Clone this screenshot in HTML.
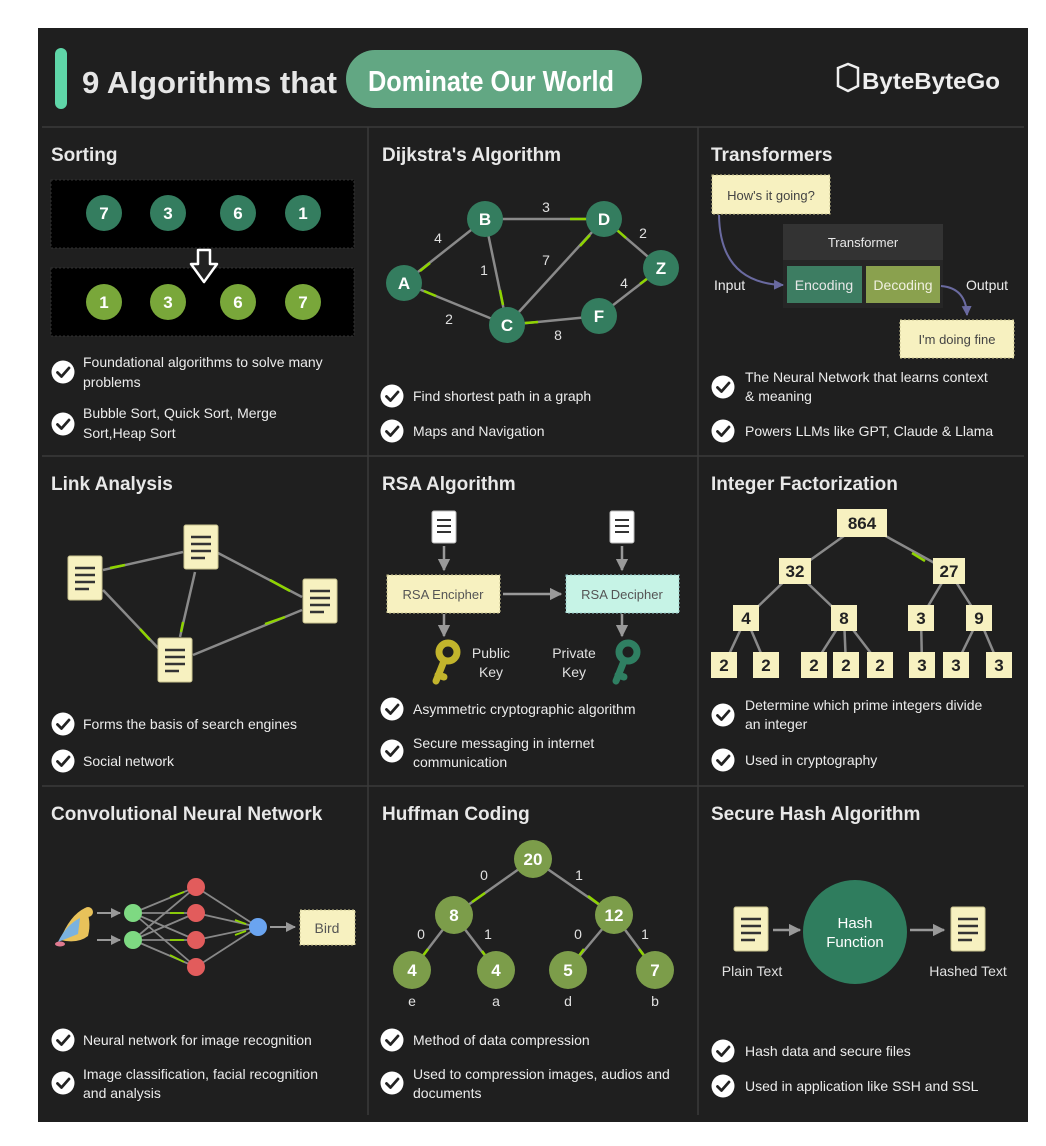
<!DOCTYPE html>
<html><head><meta charset="utf-8"><style>
html,body{margin:0;padding:0;background:#fff;}
svg{display:block;}
text{font-family:"Liberation Sans",sans-serif;}
.h{fill:#e8e8e8;font-size:19px;font-weight:bold;}
.b{fill:#ececec;font-size:14px;}
.n{fill:#fff;font-size:17px;font-weight:bold;text-anchor:middle;}
.l{fill:#e0e0e0;font-size:14px;text-anchor:middle;}
.e{stroke:#8a8a8a;stroke-width:2.5;fill:none;}
.g{stroke:#8ed400;stroke-width:2.5;fill:none;}
</style></head><body>
<svg width="1046" height="1146" viewBox="0 0 1046 1146" xmlns="http://www.w3.org/2000/svg">
<defs>
<symbol id="chk" viewBox="-12 -12 24 24"><circle r="11.5" fill="#fff"/><path d="M-5.5 0.5 L-1.5 4.5 L6 -4" stroke="#222" stroke-width="2.8" fill="none" stroke-linecap="round" stroke-linejoin="round"/></symbol>
<symbol id="doc" viewBox="0 0 36 46"><rect x="1" y="1" width="34" height="44" rx="2" fill="#f7f1c0" stroke="#c9c38f"/><path d="M8 13h20M8 20h20M8 27h20M8 34h14" stroke="#333" stroke-width="2.6"/></symbol>
<symbol id="wdoc" viewBox="0 0 26 34"><rect x="1" y="1" width="24" height="32" rx="2" fill="#fff" stroke="#bbb"/><path d="M6 10h14M6 16h14M6 22h14" stroke="#333" stroke-width="2"/></symbol>
<marker id="ar" viewBox="0 0 10 10" refX="9" refY="5" markerWidth="5" markerHeight="5" orient="auto"><path d="M0 0L10 5L0 10z" fill="#999"/></marker>
<marker id="ar2" viewBox="0 0 10 10" refX="9" refY="5" markerWidth="5" markerHeight="5" orient="auto"><path d="M0 0L10 5L0 10z" fill="#6a6aa0"/></marker>
</defs>
<rect x="38" y="28" width="990" height="1094" fill="#1f1f1f"/>
<!-- header -->
<rect x="55" y="48" width="12" height="61" rx="6" fill="#5fd6a8"/>
<text x="82" y="93" textLength="255" lengthAdjust="spacingAndGlyphs" style="font-size:31px;font-weight:bold;fill:#e6e6e6">9 Algorithms that</text>
<rect x="346" y="50" width="296" height="58" rx="29" fill="#62a783"/>
<text x="368" y="91" textLength="246" lengthAdjust="spacingAndGlyphs" style="font-size:29px;font-weight:bold;fill:#fff">Dominate Our World</text>
<path d="M838 68 l10 -4 l10 4 v18 l-10 5 l-10 -5z" fill="none" stroke="#eee" stroke-width="2.5"/>
<text x="862" y="89" textLength="138" lengthAdjust="spacingAndGlyphs" style="font-size:23px;font-weight:bold;fill:#eee">ByteByteGo</text>
<!-- grid -->
<g stroke="#3a3a3a" stroke-width="1.5">
<line x1="42" y1="127" x2="1024" y2="127"/><line x1="42" y1="456" x2="1024" y2="456"/><line x1="42" y1="786" x2="1024" y2="786"/>
<line x1="368" y1="127" x2="368" y2="1115"/><line x1="698" y1="127" x2="698" y2="1115"/>
</g>
<!-- titles -->
<text class="h" x="51" y="161">Sorting</text>
<text class="h" x="382" y="161">Dijkstra's Algorithm</text>
<text class="h" x="711" y="161">Transformers</text>
<text class="h" x="51" y="490">Link Analysis</text>
<text class="h" x="382" y="490">RSA Algorithm</text>
<text class="h" x="711" y="490">Integer Factorization</text>
<text class="h" x="51" y="820">Convolutional Neural Network</text>
<text class="h" x="382" y="820">Huffman Coding</text>
<text class="h" x="711" y="820">Secure Hash Algorithm</text>
<!-- Sorting -->
<rect x="51" y="180" width="303" height="68" fill="#000" stroke="#333" stroke-dasharray="2 2"/>
<rect x="51" y="268" width="303" height="68" fill="#000" stroke="#333" stroke-dasharray="2 2"/>
<g fill="#347d5f"><circle cx="104" cy="213" r="18"/><circle cx="168" cy="213" r="18"/><circle cx="238" cy="213" r="18"/><circle cx="303" cy="213" r="18"/></g>
<text class="n" x="104" y="219">7</text><text class="n" x="168" y="219">3</text><text class="n" x="238" y="219">6</text><text class="n" x="303" y="219">1</text>
<g fill="#79a73a"><circle cx="104" cy="302" r="18"/><circle cx="168" cy="302" r="18"/><circle cx="238" cy="302" r="18"/><circle cx="303" cy="302" r="18"/></g>
<text class="n" x="104" y="308">1</text><text class="n" x="168" y="308">3</text><text class="n" x="238" y="308">6</text><text class="n" x="303" y="308">7</text>
<path d="M198 250 h12 v14 h7 l-13 18 l-13 -18 h7z" fill="#222" stroke="#fff" stroke-width="2.5" stroke-linejoin="round"/>
<use href="#chk" x="51" y="360" width="24" height="24"/>
<text class="b" x="83" y="367">Foundational algorithms to solve many</text><text class="b" x="83" y="387">problems</text>
<use href="#chk" x="51" y="412" width="24" height="24"/>
<text class="b" x="83" y="418">Bubble Sort, Quick Sort, Merge</text><text class="b" x="83" y="438">Sort,Heap Sort</text>
<!-- Dijkstra -->
<g class="e"><line x1="404" y1="283" x2="485" y2="219"/><line x1="485" y1="219" x2="604" y2="219"/><line x1="604" y1="219" x2="661" y2="268"/><line x1="404" y1="283" x2="507" y2="325"/><line x1="485" y1="219" x2="507" y2="325"/><line x1="604" y1="219" x2="507" y2="325"/><line x1="661" y1="268" x2="599" y2="316"/><line x1="507" y1="325" x2="599" y2="316"/></g>
<g class="g"><line x1="420" y1="271" x2="430" y2="263"/><line x1="570" y1="219" x2="586" y2="219"/><line x1="617" y1="230" x2="626" y2="238"/><line x1="424" y1="291" x2="436" y2="296"/><line x1="500" y1="290" x2="503" y2="305"/><line x1="580" y1="246" x2="590" y2="235"/><line x1="640" y1="284" x2="648" y2="278"/><line x1="525" y1="323" x2="538" y2="322"/></g>
<g fill="#347d5f"><circle cx="404" cy="283" r="18"/><circle cx="485" cy="219" r="18"/><circle cx="604" cy="219" r="18"/><circle cx="661" cy="268" r="18"/><circle cx="507" cy="325" r="18"/><circle cx="599" cy="316" r="18"/></g>
<text class="n" x="404" y="289">A</text><text class="n" x="485" y="225">B</text><text class="n" x="604" y="225">D</text><text class="n" x="661" y="274">Z</text><text class="n" x="507" y="331">C</text><text class="n" x="599" y="322">F</text>
<text class="l" x="438" y="243">4</text><text class="l" x="546" y="212">3</text><text class="l" x="643" y="238">2</text><text class="l" x="449" y="324">2</text><text class="l" x="484" y="275">1</text><text class="l" x="546" y="265">7</text><text class="l" x="624" y="288">4</text><text class="l" x="558" y="340">8</text>
<use href="#chk" x="380" y="384" width="24" height="24"/><text class="b" x="413" y="401">Find shortest path in a graph</text>
<use href="#chk" x="380" y="419" width="24" height="24"/><text class="b" x="413" y="436">Maps and Navigation</text>
<!-- Transformers -->
<rect x="712" y="175" width="118" height="39" fill="#f7f1c0" stroke="#c9c38f" stroke-dasharray="2 2"/>
<text x="771" y="200" style="font-size:13px;fill:#444;text-anchor:middle">How's it going?</text>
<rect x="783" y="224" width="160" height="36" fill="#333"/>
<text x="863" y="247" style="font-size:13px;fill:#e8e8e8;text-anchor:middle">Transformer</text>
<rect x="783" y="260" width="160" height="48" fill="#262626"/>
<rect x="787" y="266" width="75" height="37" fill="#3d7d62"/><text x="824" y="290" style="font-size:14px;fill:#e8e8e8;text-anchor:middle">Encoding</text>
<rect x="866" y="266" width="74" height="37" fill="#8aa14e"/><text x="903" y="290" style="font-size:14px;fill:#f0f0e0;text-anchor:middle">Decoding</text>
<path d="M719 215 Q720 283 783 285" fill="none" stroke="#6a6aa0" stroke-width="2" marker-end="url(#ar2)"/>
<path d="M941 286 Q966 288 967 315" fill="none" stroke="#6a6aa0" stroke-width="2" marker-end="url(#ar2)"/>
<text class="b" x="714" y="290">Input</text><text class="b" x="966" y="290">Output</text>
<rect x="900" y="320" width="114" height="38" fill="#f7f1c0" stroke="#c9c38f" stroke-dasharray="2 2"/>
<text x="957" y="344" style="font-size:13px;fill:#444;text-anchor:middle">I'm doing fine</text>
<use href="#chk" x="711" y="375" width="24" height="24"/>
<text class="b" x="745" y="382">The Neural Network that learns context</text><text class="b" x="745" y="401">&amp; meaning</text>
<use href="#chk" x="711" y="419" width="24" height="24"/><text class="b" x="745" y="436">Powers LLMs like GPT, Claude &amp; Llama</text>
<!-- Link Analysis -->
<g class="e"><line x1="103" y1="570" x2="183" y2="552"/><line x1="218" y1="553" x2="302" y2="597"/><line x1="195" y1="572" x2="180" y2="637"/><line x1="103" y1="590" x2="160" y2="650"/><line x1="193" y1="655" x2="302" y2="610"/></g>
<g class="g"><line x1="110" y1="568" x2="125" y2="565"/><line x1="270" y1="580" x2="290" y2="591"/><line x1="183" y1="622" x2="181" y2="632"/><line x1="140" y1="629" x2="150" y2="640"/><line x1="265" y1="624" x2="285" y2="617"/></g>
<use href="#doc" x="67" y="555" width="36" height="46"/>
<use href="#doc" x="183" y="524" width="36" height="46"/>
<use href="#doc" x="302" y="578" width="36" height="46"/>
<use href="#doc" x="157" y="637" width="36" height="46"/>
<use href="#chk" x="51" y="712" width="24" height="24"/><text class="b" x="83" y="729">Forms the basis of search engines</text>
<use href="#chk" x="51" y="749" width="24" height="24"/><text class="b" x="83" y="766">Social network</text>
<!-- RSA -->
<use href="#wdoc" x="431" y="510" width="26" height="34"/><use href="#wdoc" x="609" y="510" width="26" height="34"/>
<g stroke="#999" stroke-width="2.5"><line x1="444" y1="546" x2="444" y2="570" marker-end="url(#ar)"/><line x1="622" y1="546" x2="622" y2="570" marker-end="url(#ar)"/><line x1="444" y1="614" x2="444" y2="636" marker-end="url(#ar)"/><line x1="622" y1="614" x2="622" y2="636" marker-end="url(#ar)"/><line x1="503" y1="594" x2="561" y2="594" marker-end="url(#ar)"/></g>
<rect x="387" y="575" width="113" height="38" fill="#f7f1c0" stroke="#c9c38f" stroke-dasharray="2 2"/>
<text x="443" y="599" style="font-size:13px;fill:#555;text-anchor:middle">RSA Encipher</text>
<rect x="566" y="575" width="113" height="38" fill="#c6f3e6" stroke="#9cc" stroke-dasharray="2 2"/>
<text x="622" y="599" style="font-size:13px;fill:#555;text-anchor:middle">RSA Decipher</text>
<g fill="none" stroke-width="7" stroke-linecap="round"><circle cx="448" cy="652" r="9" stroke="#c2b42c"/><path d="M444 661 L436 681 M438 675 l6 2" stroke="#c2b42c"/><circle cx="628" cy="652" r="9" stroke="#2f7f62"/><path d="M624 661 L616 681 M618 675 l6 2" stroke="#2f7f62"/></g>
<circle cx="448" cy="652" r="2.5" fill="#1f1f1f"/><circle cx="628" cy="652" r="2.5" fill="#1f1f1f"/>
<text class="l" x="491" y="658">Public</text><text class="l" x="491" y="677">Key</text>
<text class="l" x="574" y="658">Private</text><text class="l" x="574" y="677">Key</text>
<use href="#chk" x="380" y="697" width="24" height="24"/><text class="b" x="413" y="714">Asymmetric cryptographic algorithm</text>
<use href="#chk" x="380" y="739" width="24" height="24"/><text class="b" x="413" y="748">Secure messaging in internet</text><text class="b" x="413" y="767">communication</text>
<!-- Integer Factorization -->
<g class="e"><line x1="862" y1="523" x2="795" y2="571"/><line x1="862" y1="523" x2="949" y2="571"/><line x1="795" y1="571" x2="746" y2="618"/><line x1="795" y1="571" x2="844" y2="618"/><line x1="949" y1="571" x2="921" y2="618"/><line x1="949" y1="571" x2="979" y2="618"/><line x1="746" y1="618" x2="724" y2="665"/><line x1="746" y1="618" x2="766" y2="665"/><line x1="844" y1="618" x2="814" y2="665"/><line x1="844" y1="618" x2="846" y2="665"/><line x1="844" y1="618" x2="880" y2="665"/><line x1="921" y1="618" x2="922" y2="665"/><line x1="979" y1="618" x2="956" y2="665"/><line x1="979" y1="618" x2="999" y2="665"/></g>
<g class="g"><line x1="912" y1="553" x2="925" y2="561"/></g>
<g fill="#f7f1c0">
<rect x="837" y="509" width="50" height="28"/>
<rect x="779" y="558" width="32" height="26"/><rect x="933" y="558" width="32" height="26"/>
<rect x="733" y="605" width="26" height="26"/><rect x="831" y="605" width="26" height="26"/><rect x="908" y="605" width="26" height="26"/><rect x="966" y="605" width="26" height="26"/>
<rect x="711" y="652" width="26" height="26"/><rect x="753" y="652" width="26" height="26"/><rect x="801" y="652" width="26" height="26"/><rect x="833" y="652" width="26" height="26"/><rect x="867" y="652" width="26" height="26"/><rect x="909" y="652" width="26" height="26"/><rect x="943" y="652" width="26" height="26"/><rect x="986" y="652" width="26" height="26"/>
</g>
<g style="font-size:17px;font-weight:bold;fill:#222;text-anchor:middle">
<text x="862" y="529">864</text><text x="795" y="577">32</text><text x="949" y="577">27</text>
<text x="746" y="624">4</text><text x="844" y="624">8</text><text x="921" y="624">3</text><text x="979" y="624">9</text>
<text x="724" y="671">2</text><text x="766" y="671">2</text><text x="814" y="671">2</text><text x="846" y="671">2</text><text x="880" y="671">2</text><text x="922" y="671">3</text><text x="956" y="671">3</text><text x="999" y="671">3</text>
</g>
<use href="#chk" x="711" y="703" width="24" height="24"/><text class="b" x="745" y="710">Determine which prime integers divide</text><text class="b" x="745" y="729">an integer</text>
<use href="#chk" x="711" y="748" width="24" height="24"/><text class="b" x="745" y="765">Used in cryptography</text>
<!-- CNN -->
<g stroke="#999" stroke-width="2"><line x1="97" y1="913" x2="120" y2="913" marker-end="url(#ar)"/><line x1="97" y1="940" x2="120" y2="940" marker-end="url(#ar)"/><line x1="270" y1="927" x2="295" y2="927" marker-end="url(#ar)"/></g>
<g stroke="#888" stroke-width="1.8">
<line x1="133" y1="913" x2="196" y2="887"/><line x1="133" y1="913" x2="196" y2="913"/><line x1="133" y1="913" x2="196" y2="940"/><line x1="133" y1="913" x2="196" y2="967"/>
<line x1="133" y1="940" x2="196" y2="887"/><line x1="133" y1="940" x2="196" y2="913"/><line x1="133" y1="940" x2="196" y2="940"/><line x1="133" y1="940" x2="196" y2="967"/>
<line x1="196" y1="887" x2="258" y2="927"/><line x1="196" y1="913" x2="258" y2="927"/><line x1="196" y1="940" x2="258" y2="927"/><line x1="196" y1="967" x2="258" y2="927"/>
</g>
<g stroke="#8ed400" stroke-width="1.8"><line x1="170" y1="897" x2="184" y2="892"/><line x1="170" y1="913" x2="184" y2="913"/><line x1="170" y1="940" x2="184" y2="940"/><line x1="170" y1="955" x2="184" y2="962"/><line x1="235" y1="920" x2="246" y2="924"/><line x1="235" y1="935" x2="246" y2="931"/></g>
<g fill="#7ed982"><circle cx="133" cy="913" r="9"/><circle cx="133" cy="940" r="9"/></g>
<g fill="#e25c5c"><circle cx="196" cy="887" r="9"/><circle cx="196" cy="913" r="9"/><circle cx="196" cy="940" r="9"/><circle cx="196" cy="967" r="9"/></g>
<circle cx="258" cy="927" r="9" fill="#6aa4f0"/>
<path d="M60 940 Q70 915 85 908 Q92 920 88 936 Q78 944 60 940z" fill="#e8c25a"/><path d="M58 942 Q66 925 80 918 L78 934z" fill="#7ab2e0"/><circle cx="88" cy="912" r="5" fill="#e8c25a"/><ellipse cx="60" cy="944" rx="5" ry="2.5" fill="#e07a90"/>
<rect x="300" y="910" width="55" height="35" fill="#f7f1c0" stroke="#c9c38f" stroke-dasharray="2 2"/>
<text x="327" y="933" style="font-size:14px;fill:#555;text-anchor:middle">Bird</text>
<use href="#chk" x="51" y="1028" width="24" height="24"/><text class="b" x="83" y="1045">Neural network for image recognition</text>
<use href="#chk" x="51" y="1071" width="24" height="24"/><text class="b" x="83" y="1079">Image classification, facial recognition</text><text class="b" x="83" y="1098">and analysis</text>
<!-- Huffman -->
<g class="e"><line x1="533" y1="859" x2="454" y2="915"/><line x1="533" y1="859" x2="614" y2="915"/><line x1="454" y1="915" x2="412" y2="970"/><line x1="454" y1="915" x2="496" y2="970"/><line x1="614" y1="915" x2="568" y2="970"/><line x1="614" y1="915" x2="655" y2="970"/></g>
<g class="g"><line x1="472" y1="902" x2="485" y2="893"/><line x1="588" y1="896" x2="600" y2="905"/><line x1="422" y1="957" x2="428" y2="949"/><line x1="482" y1="951" x2="488" y2="959"/><line x1="578" y1="957" x2="584" y2="949"/><line x1="639" y1="949" x2="645" y2="957"/></g>
<g fill="#7c9d4a"><circle cx="533" cy="859" r="19"/><circle cx="454" cy="915" r="19"/><circle cx="614" cy="915" r="19"/><circle cx="412" cy="970" r="19"/><circle cx="496" cy="970" r="19"/><circle cx="568" cy="970" r="19"/><circle cx="655" cy="970" r="19"/></g>
<text class="n" x="533" y="865">20</text><text class="n" x="454" y="921">8</text><text class="n" x="614" y="921">12</text><text class="n" x="412" y="976">4</text><text class="n" x="496" y="976">4</text><text class="n" x="568" y="976">5</text><text class="n" x="655" y="976">7</text>
<text class="l" x="484" y="880">0</text><text class="l" x="579" y="880">1</text><text class="l" x="421" y="939">0</text><text class="l" x="488" y="939">1</text><text class="l" x="578" y="939">0</text><text class="l" x="645" y="939">1</text>
<text class="l" x="412" y="1006">e</text><text class="l" x="496" y="1006">a</text><text class="l" x="568" y="1006">d</text><text class="l" x="655" y="1006">b</text>
<use href="#chk" x="380" y="1028" width="24" height="24"/><text class="b" x="413" y="1045">Method of data compression</text>
<use href="#chk" x="380" y="1071" width="24" height="24"/><text class="b" x="413" y="1079">Used to compression images, audios and</text><text class="b" x="413" y="1098">documents</text>
<!-- SHA -->
<use href="#doc" x="733" y="906" width="36" height="46"/><use href="#doc" x="950" y="906" width="36" height="46"/>
<g stroke="#999" stroke-width="2.5"><line x1="773" y1="930" x2="800" y2="930" marker-end="url(#ar)"/><line x1="910" y1="930" x2="944" y2="930" marker-end="url(#ar)"/></g>
<circle cx="855" cy="932" r="52" fill="#2f7d5e"/>
<text x="855" y="928" style="font-size:15px;fill:#fff;text-anchor:middle">Hash</text><text x="855" y="947" style="font-size:15px;fill:#fff;text-anchor:middle">Function</text>
<text class="l" x="752" y="976">Plain Text</text><text class="l" x="968" y="976">Hashed Text</text>
<use href="#chk" x="711" y="1039" width="24" height="24"/><text class="b" x="745" y="1056">Hash data and secure files</text>
<use href="#chk" x="711" y="1074" width="24" height="24"/><text class="b" x="745" y="1091">Used in application like SSH and SSL</text>
</svg>
</body></html>
